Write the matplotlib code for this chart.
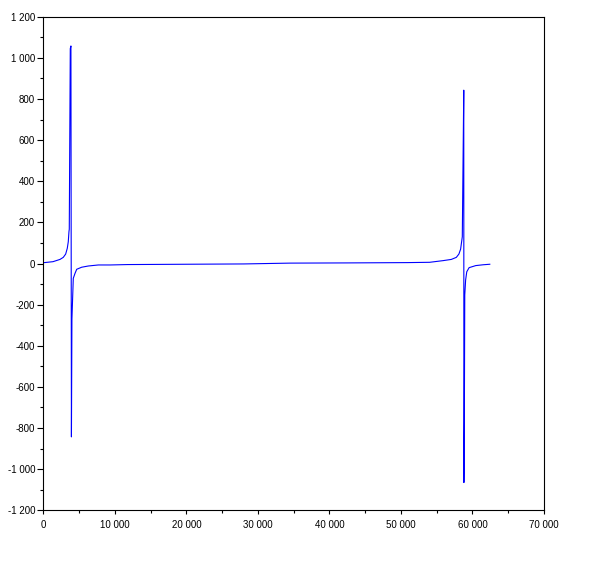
import matplotlib
matplotlib.use("Agg")
import matplotlib.pyplot as plt
from matplotlib.ticker import MultipleLocator, FuncFormatter

plt.rcParams["font.family"] = ["Liberation Sans", "DejaVu Sans"]

# points (two poles, near 3 850 and 58 800)
x_left = [0, 1340, 2320, 2780, 3115, 3340, 3480, 3575, 3620, 3760, 3850, 3920,
          3990, 4180, 4420, 4660, 5350, 6280, 7680, 9350]
y_left = [4, 9, 20, 30, 46, 74, 106, 155, 167, 1045, 1058, -843,
          -270, -72, -48, -28, -18, -12, -7, -7]

x_mid = [11800, 20000, 28000, 31245, 34500, 42500, 50900, 54010]
y_mid = [-5, -3.5, -2, 0, 2, 3, 4.5, 6]

x_right = [55870, 57040, 57740, 58100, 58340, 58480, 58575, 58640, 58780, 58800,
           58860, 58920, 59040, 59200, 59530, 60460, 61500, 62420]
y_right = [14, 20, 30, 46, 70, 106, 130, 357, 843, -1065,
           -773, -153, -80, -40, -20, -10, -6, -3.5]

x_vals = x_left + x_mid + x_right
y_vals = y_left + y_mid + y_right


def spaced(v, pos):
    return f"{int(round(v)):,}".replace(",", " ")


fig = plt.figure(figsize=(6.12, 5.66), dpi=100)
ax = fig.add_axes([0.0709, 0.0984, 0.818, 0.872])
ax.plot(x_vals, y_vals, color="#0000ff", linewidth=0.8)

ax.set_xlim(0, 70000)
ax.set_ylim(-1200, 1200)
ax.xaxis.set_major_locator(MultipleLocator(10000))
ax.xaxis.set_minor_locator(MultipleLocator(5000))
ax.yaxis.set_major_locator(MultipleLocator(200))
ax.yaxis.set_minor_locator(MultipleLocator(100))
ax.xaxis.set_major_formatter(FuncFormatter(spaced))
ax.yaxis.set_major_formatter(FuncFormatter(spaced))

ax.tick_params(axis="x", which="major", direction="out", length=3, width=0.8,
               pad=4, labelsize=7)
ax.tick_params(axis="x", which="minor", direction="out", length=2, width=0.8)
ax.tick_params(axis="y", which="major", direction="out", length=4, width=0.8,
               pad=2, labelsize=7)
ax.tick_params(axis="y", which="minor", direction="out", length=2, width=0.8)
for s in ax.spines.values():
    s.set_linewidth(0.8)
    s.set_color("black")

fig.savefig("out.png", dpi=100)
